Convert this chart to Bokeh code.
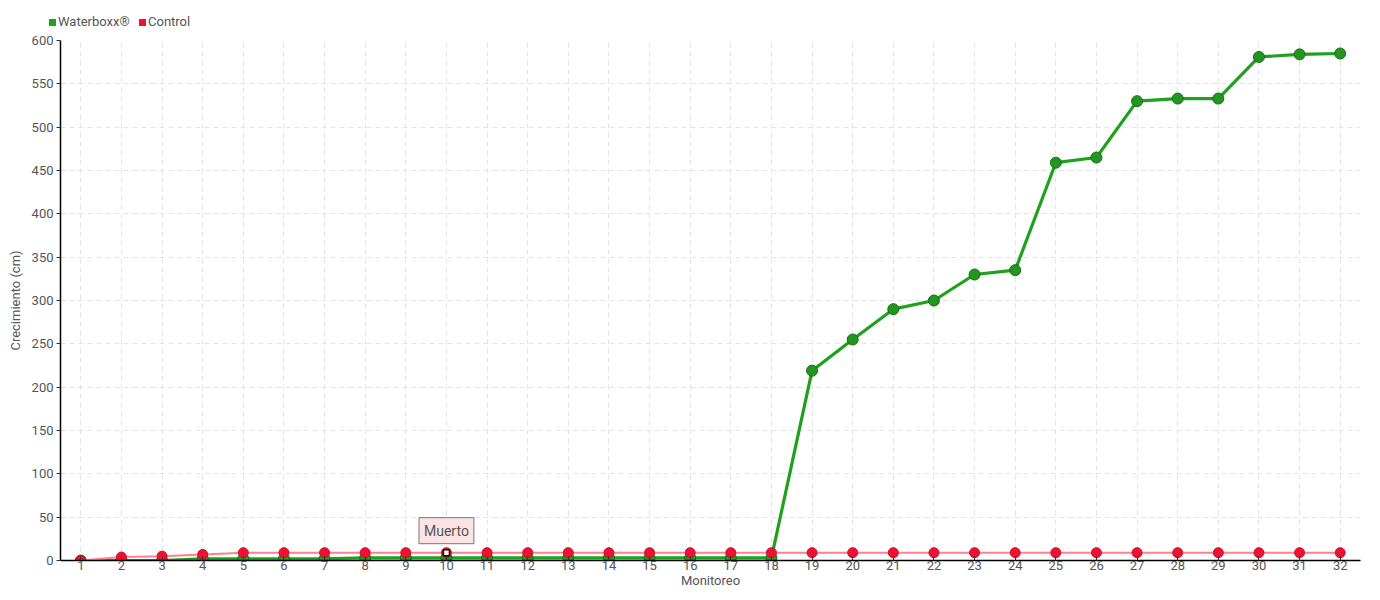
from bokeh.plotting import figure
from bokeh.layouts import column
from bokeh.models import Range1d, Label, ColumnDataSource, FixedTicker, Div
from bokeh.embed import file_html
from bokeh.resources import INLINE

monitoreo = list(range(1, 33))
waterboxx = [0, 0, 0, 2, 2, 2, 2, 3, 3, 3, 3, 3, 3, 3, 3, 3, 3, 3,
             219, 255, 290, 300, 330, 335, 459, 465, 530, 533, 533, 581, 584, 585]
control = [0, 4, 5, 7, 9, 9, 9, 9, 9, 9, 9, 9, 9, 9, 9, 9, 9, 9,
           9, 9, 9, 9, 9, 9, 9, 9, 9, 9, 9, 9, 9, 9]
y_ticks = list(range(0, 601, 50))
series_names = ["Waterboxx®", "Control"]
annot_x = 10
annot_text = "Muerto"

FONT = "Roboto"
TXT = "#555555"
GREEN = "#1fa01f"
RED = "#ee1133"
W = 1364

# ---- legend strip (HTML) ----
def item(left, color, label):
    return (f'<span style="position:absolute;left:{left}px;top:19px;width:7px;'
            f'height:7px;background:{color};"></span>'
            f'<span style="position:absolute;left:{left + 9}px;top:14px;'
            f'line-height:16px;white-space:nowrap;">{label}</span>')

html = ('<div style="position:relative;width:1364px;height:30px;'
        f'font-family:{FONT};font-size:13px;color:{TXT};">'
        + item(49, GREEN, series_names[0])
        + item(139, RED, series_names[1])
        + '</div>')
lg = Div(text=html, width=W, height=30, margin=0)

# ---- main chart ----
p = figure(width=W, height=560, output_backend="svg", toolbar_location=None,
           x_range=Range1d(0.5, 32.5), y_range=Range1d(0, 600),
           min_border_left=60, min_border_right=4, min_border_top=10,
           min_border_bottom=24)
p.outline_line_color = None
p.background_fill_color = "white"

for ax in (p.xaxis[0], p.yaxis[0]):
    ax.axis_line_color = "black"
    ax.axis_line_width = 1.5
    ax.major_tick_line_color = "#333333"
    ax.minor_tick_line_color = None
    ax.major_label_text_font = FONT
    ax.major_label_text_font_size = "13px"
    ax.major_label_text_color = TXT
    ax.axis_label_text_font = FONT
    ax.axis_label_text_font_size = "13px"
    ax.axis_label_text_color = TXT
    ax.axis_label_text_font_style = "normal"

p.xaxis.ticker = FixedTicker(ticks=monitoreo)
p.yaxis.ticker = FixedTicker(ticks=y_ticks)
p.xaxis.major_tick_in = 4
p.xaxis.major_tick_out = 0
p.yaxis.major_tick_in = 0
p.yaxis.major_tick_out = 4
p.xaxis.major_label_standoff = 0
p.yaxis.major_label_standoff = 3
p.xaxis.axis_label = "Monitoreo"
p.yaxis.axis_label = "Crecimiento (cm)"
p.xaxis.axis_label_standoff = 0
p.yaxis.axis_label_standoff = 6

p.grid.grid_line_color = "#e3e3e3"
p.grid.grid_line_dash = "5 4"
p.grid.grid_line_width = 1

src_w = ColumnDataSource(dict(x=monitoreo, y=waterboxx))
src_c = ColumnDataSource(dict(x=monitoreo, y=control))

p.line("x", "y", source=src_w, line_color=GREEN, line_width=3.2)
p.scatter("x", "y", source=src_w, size=11, fill_color="#23961f",
          line_color="#1a6b1a", line_width=1)
p.line("x", "y", source=src_c, line_color="#ff8090", line_width=2)
p.scatter("x", "y", source=src_c, size=10, fill_color=RED,
          line_color="#c8102a", line_width=1)

# highlighted point
p.scatter(x=[annot_x], y=[control[annot_x - 1]], marker="square", size=6,
          fill_color="white", line_color="black", line_width=1.5)

lab = Label(x=annot_x, y=control[annot_x - 1], text=annot_text,
            x_units="data", y_units="data", y_offset=9,
            text_align="center", text_baseline="bottom",
            text_font=FONT, text_font_size="14px", text_color=TXT,
            background_fill_color="#fce4e4", border_line_color="#777777",
            border_line_width=1, padding=5)
p.add_layout(lab)

layout = column(lg, p, spacing=0)
open("out.html", "w").write(file_html(layout, INLINE))
